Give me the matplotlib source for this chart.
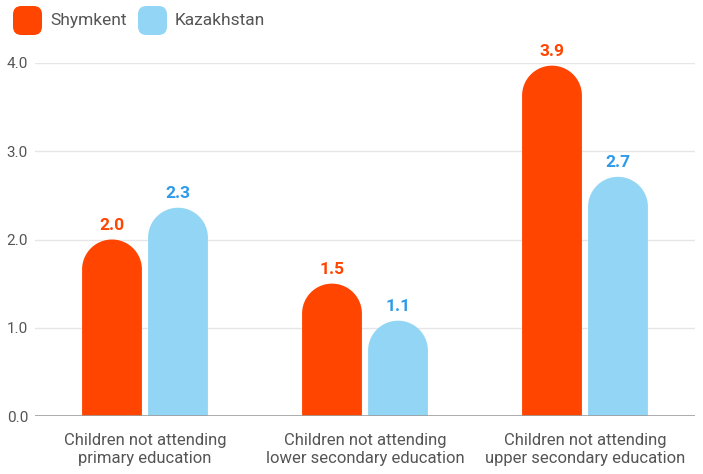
import numpy as np
import matplotlib
matplotlib.use("Agg")
import matplotlib.pyplot as plt
from matplotlib.patches import Polygon, FancyBboxPatch

plt.rcParams['font.family'] = ['Roboto', 'DejaVu Sans']

categories = ["Children not attending\nprimary education",
              "Children not attending\nlower secondary education",
              "Children not attending\nupper secondary education"]
series_names = ["Shymkent", "Kazakhstan"]
shymkent = [2.0, 1.5, 3.97]
kazakhstan = [2.36, 1.08, 2.71]
shymkent_labels = ["2.0", "1.5", "3.9"]
kazakhstan_labels = ["2.3", "1.1", "2.7"]
yticks = [0.0, 1.0, 2.0, 3.0, 4.0]

bar_colors = ["#FF4500", "#93D5F4"]
label_colors = ["#FF4500", "#2E9BEA"]

W, H = 703, 474
fig = plt.figure(figsize=(W / 100, H / 100), dpi=100)
ax_left, ax_right, ax_bottom, ax_top = 35, 695, 416, 63
ax = fig.add_axes([ax_left / W, (H - ax_bottom) / H, (ax_right - ax_left) / W, (ax_bottom - ax_top) / H])
xmin, xmax, ymin, ymax = -0.5, 2.5, 0.0, 4.0
ax.set_xlim(xmin, xmax)
ax.set_ylim(ymin, ymax)

px_per_x = (ax_right - ax_left) / (xmax - xmin)
px_per_y = (ax_bottom - ax_top) / (ymax - ymin)

bw = 0.272
offsets = [-0.15, 0.15]

def rounded_bar(cx, h, color):
    rx = bw / 2
    ry = rx * px_per_x / px_per_y
    t = np.linspace(0, np.pi, 60)
    xs = cx + rx * np.cos(t)
    ys = max(h - ry, 0) + ry * np.sin(t)
    pts = [(cx + rx, 0)] + list(zip(xs, ys)) + [(cx - rx, 0)]
    ax.add_patch(Polygon(pts, closed=True, facecolor=color, edgecolor='none', zorder=3))

x = np.arange(len(categories))
for si, (vals, labs) in enumerate([(shymkent, shymkent_labels), (kazakhstan, kazakhstan_labels)]):
    for i, (v, lab) in enumerate(zip(vals, labs)):
        cx = x[i] + offsets[si]
        rounded_bar(cx, v, bar_colors[si])
        ax.text(cx, v + 0.075, lab, ha='center', va='bottom', color=label_colors[si],
                fontsize=12.5, fontweight='bold', zorder=4)

for yv in yticks[1:]:
    ax.axhline(yv, color='#E6E6E6', lw=1, zorder=1)
ax.axhline(0, color='#9E9E9E', lw=1.2, zorder=4)

ax.set_yticks(yticks)
ax.set_yticklabels([f"{v:.1f}" for v in yticks], fontsize=11, color='#555555')
ax.set_xticks(x)
ax.set_xticklabels(categories, fontsize=12, color='#555555', linespacing=1.25)
ax.tick_params(axis='both', length=0)
ax.tick_params(axis='y', pad=5)
ax.tick_params(axis='x', pad=12)
for s in ax.spines.values():
    s.set_visible(False)

# legend
leg_items = [(13, "Shymkent"), (138, "Kazakhstan")]
for (lx, name), c in zip(leg_items, bar_colors):
    box = FancyBboxPatch((lx / W, 1 - 35 / H), 29 / W, 29 / H,
                         boxstyle="round,pad=0,rounding_size=0.012",
                         transform=fig.transFigure, facecolor=c, edgecolor='none',
                         mutation_aspect=W / H)
    fig.patches.append(box)
    fig.text((lx + 37) / W, 1 - 20.5 / H, name, ha='left', va='center', fontsize=12.5, color='#555555')

fig.savefig("out.png", dpi=100)
